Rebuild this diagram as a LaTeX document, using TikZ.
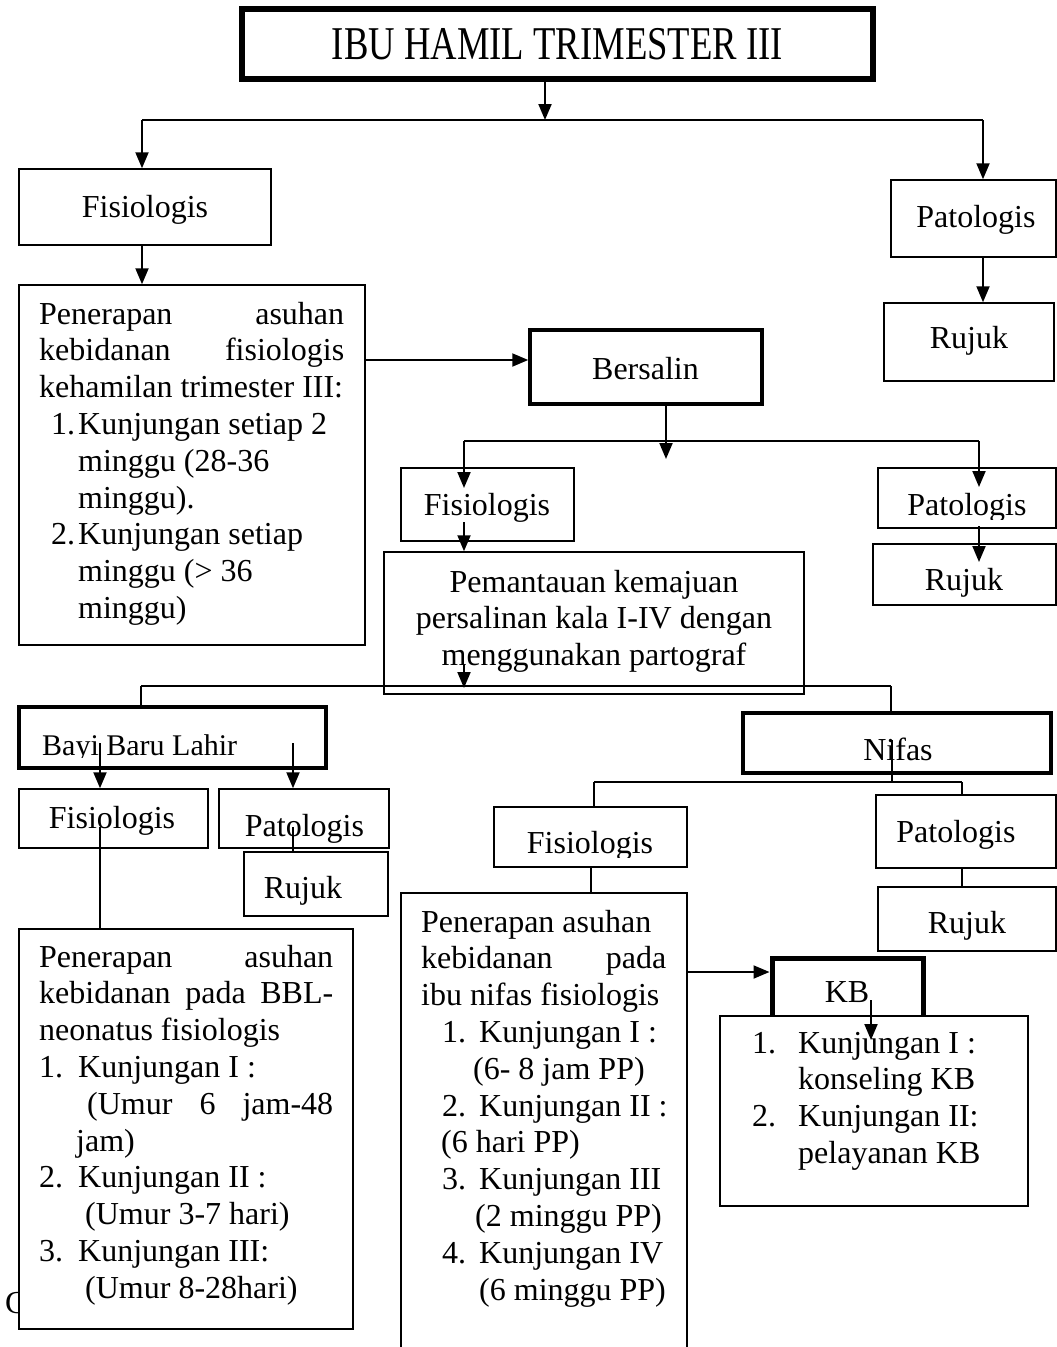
\documentclass[tikz,border=0pt]{standalone}
\usepackage{fontspec}
\setmainfont{Liberation Serif}
\usepackage{graphicx}
\usetikzlibrary{arrows.meta,positioning}

\newcommand{\bodysize}{\fontsize{32}{36.8}\selectfont}
\newcommand{\js}[2]{\makebox[#1pt][s]{#2}}
\newcommand{\itm}[3]{\hspace*{#1pt}\makebox[#2pt][l]{#3}}

\tikzset{
  box/.style={draw,line width=1.5pt,fill=white,inner sep=0pt},
  heavy/.style={box,line width=#1},
  lbl/.style={anchor=base,inner sep=0pt,font=\bodysize},
  blk/.style={anchor=base west,inner sep=0pt,font=\bodysize},
  arr/.style={line width=2pt,-{Triangle[length=16pt,width=13pt]}},
  ln/.style={line width=2pt}
}

\begin{document}
\begin{tikzpicture}[x=1pt,y=-1pt]
  \useasboundingbox (0,0) rectangle (1057,1347);

  \node[blk] (cc) at (5,1313) {C};

  % boxes
  \node[heavy=6pt,minimum width=631pt,minimum height=70pt,
        font=\fontsize{47}{50}\selectfont] (title) at (557.5,44)
        {\scalebox{0.78}[1]{IBU HAMIL TRIMESTER III}};
  \node[box,minimum width=252pt,minimum height=76pt] (fis1) at (145,207) {};
  \node[box,minimum width=165pt,minimum height=77pt] (pat1) at (973.5,218.5) {};
  \node[box,minimum width=170pt,minimum height=78pt] (ruj1) at (969,342) {};
  \node[box,minimum width=346pt,minimum height=360pt] (pen1) at (192,465) {};
  \node[heavy=3.5pt,minimum width=232pt,minimum height=74pt] (bers) at (646,367) {};
  \node[box,minimum width=173pt,minimum height=73pt] (fis2) at (487.5,504.5) {};
  \node[box,minimum width=178pt,minimum height=60pt] (pat2) at (967,498) {};
  \node[box,minimum width=183pt,minimum height=61pt] (ruj2) at (964.5,574.5) {};
  \node[box,minimum width=420pt,minimum height=142pt] (pem) at (594,623) {};
  \node[heavy=4.5pt,minimum width=307pt,minimum height=61pt] (bayi) at (172.5,737.5) {};
  \node[heavy=4.5pt,minimum width=308pt,minimum height=60pt] (nifas) at (897,743) {};
  \node[box,minimum width=189pt,minimum height=59pt] (fis3) at (113.5,818.5) {};
  \node[box,minimum width=170pt,minimum height=59pt] (pat3) at (304,818.5) {};
  \node[box,minimum width=144pt,minimum height=64pt] (ruj3) at (316,884) {};
  \node[box,minimum width=334pt,minimum height=400pt] (pen3) at (186,1129) {};
  \node[box,minimum width=193pt,minimum height=60pt] (fis4) at (590.5,837) {};
  \node[box,minimum width=180pt,minimum height=73pt] (pat4) at (966,831.5) {};
  \node[box,minimum width=178pt,minimum height=64pt] (ruj4) at (967,919) {};
  \node[box,minimum width=286pt,minimum height=477pt] (pen4) at (544,1131.5) {};
  \node[heavy=5pt,minimum width=151pt,minimum height=66pt] (kb) at (847.5,991) {};
  \node[box,minimum width=308pt,minimum height=190pt] (kbl) at (874,1111) {};

  % texts
  \node[lbl] (fis1t) at (145,217) {Fisiologis};
  \node[lbl] (pat1t) at (976,227) {Patologis};
  \node[lbl] (ruj1t) at (969,348) {Rujuk};
  \node[lbl] (berst) at (645.5,379) {Bersalin};
  \node[lbl] (fis2t) at (487,515) {Fisiologis};
  \begin{scope}
    \clip (880,470) rectangle (1055,519);
    \node[lbl] (pat2t) at (967,515) {Patologis};
  \end{scope}
  \node[lbl] (ruj2t) at (964,590) {Rujuk};
  \node[lbl] (pemt) at (594,592) {\begin{minipage}[t]{410pt}\centering
    Pemantauan kemajuan\\
    persalinan kala I-IV dengan\\
    menggunakan partograf\end{minipage}};
  \begin{scope}
    \clip (22,710) rectangle (323,757.5);
    \node[blk,font=\fontsize{30}{34}\selectfont] (bayit) at (42,755) {Bayi Baru Lahir};
  \end{scope}
  \node[lbl] (nifast) at (898,760) {Nifas};
  \node[lbl] (fis3t) at (112,828) {Fisiologis};
  \node[lbl] (pat3t) at (304.5,836) {Patologis};
  \node[lbl] (ruj3t) at (303,898) {Rujuk};
  \begin{scope}
    \clip (496,809) rectangle (685,857);
    \node[lbl] (fis4t) at (590,853) {Fisiologis};
  \end{scope}
  \node[lbl] (pat4t) at (956,842) {Patologis};
  \node[lbl] (ruj4t) at (967,933) {Rujuk};
  \node[lbl] (kbt) at (847,1002) {KB};

  \node[blk] (pen1t) at (39,324) {\begin{minipage}[t]{330pt}
    \js{305}{Penerapan asuhan}\\
    \js{305}{kebidanan fisiologis}\\
    kehamilan trimester III:\\
    \itm{12}{27}{1.}Kunjungan setiap 2\\
    \hspace*{39pt}minggu (28-36\\
    \hspace*{39pt}minggu).\\
    \itm{12}{27}{2.}Kunjungan setiap\\
    \hspace*{39pt}minggu (> 36\\
    \hspace*{39pt}minggu)\end{minipage}};

  \node[blk] (pen3t) at (39,967) {\begin{minipage}[t]{310pt}
    \js{294}{Penerapan asuhan}\\
    \js{294}{kebidanan pada BBL-}\\
    neonatus fisiologis\\
    \itm{0}{39}{1.}Kunjungan I :\\
    \hspace*{48pt}\js{246}{(Umur 6 jam-48}\\
    \hspace*{37pt}jam)\\
    \itm{0}{39}{2.}Kunjungan II :\\
    \hspace*{46pt}(Umur 3-7 hari)\\
    \itm{0}{39}{3.}Kunjungan III:\\
    \hspace*{46pt}(Umur 8-28hari)\end{minipage}};

  \node[blk] (pen4t) at (421,932) {\begin{minipage}[t]{280pt}
    Penerapan asuhan\\
    \js{245}{kebidanan pada}\\
    ibu nifas fisiologis\\
    \itm{21}{37}{1.}Kunjungan I :\\
    \hspace*{52pt}(6- 8 jam PP)\\
    \itm{21}{37}{2.}Kunjungan II :\\
    \hspace*{20pt}(6 hari PP)\\
    \itm{21}{37}{3.}Kunjungan III\\
    \hspace*{54pt}(2 minggu PP)\\
    \itm{21}{37}{4.}Kunjungan IV\\
    \hspace*{58pt}(6 minggu PP)\end{minipage}};

  \node[blk] (kblt) at (752,1053) {\begin{minipage}[t]{280pt}
    \itm{0}{46}{1.}Kunjungan I :\\
    \hspace*{46pt}konseling KB\\
    \itm{0}{46}{2.}Kunjungan II:\\
    \hspace*{46pt}pelayanan KB\end{minipage}};

  % connectors
  \coordinate (t0) at (545,120);
  \coordinate (tl) at (142,120);
  \coordinate (tr) at (983,120);
  \draw[arr] (t0 |- title.south) -- (t0);
  \draw[ln] (tl) -- (tr);
  \draw[arr] (tl) -- (tl |- fis1.north);
  \draw[arr] (tr) -- (tr |- pat1.north);
  \draw[arr] (tl |- fis1.south) -- (tl |- pen1.north);
  \draw[arr] (tr |- pat1.south) -- (tr |- ruj1.north);

  \coordinate (b0) at (0,360);
  \draw[arr] (pen1.east |- b0) -- (bers.west |- b0);
  \coordinate (b1) at (666,459);
  \draw[arr] (b1 |- bers.south) -- (b1);
  \coordinate (bl) at (464,441);
  \coordinate (br) at (979,441);
  \draw[ln] (bl) -- (br);
  \draw[arr] (bl) -- ++(0,47);
  \draw[arr] (br) -- ++(0,46);
  \coordinate (f2) at (464,522);
  \draw[arr] (f2) -- (f2 |- pem.north);
  \coordinate (p2) at (979,526);
  \draw[arr] (p2) -- ++(0,36);
  \coordinate (pm) at (464,665);
  \draw[arr] (pm) -- ++(0,23);

  \coordinate (ml) at (141,686);
  \coordinate (mr) at (891,686);
  \draw[ln] (ml) -- (mr);
  \draw[ln] (ml) -- (ml |- bayi.north);
  \draw[ln] (mr) -- (mr |- nifas.north);
  \coordinate (y1) at (100,743);
  \coordinate (y2) at (293,743);
  \draw[arr] (y1) -- (y1 |- fis3.north);
  \draw[arr] (y2) -- (y2 |- pat3.north);
  \coordinate (y3) at (100,827);
  \coordinate (y4) at (293,827);
  \draw[ln] (y3) -- (y3 |- pen3.north);
  \draw[ln] (y4) -- (y4 |- ruj3.north);

  \coordinate (n0) at (892,740);
  \coordinate (nl) at (594,782);
  \coordinate (nr) at (962,782);
  \draw[ln] (n0) -- (n0 |- nl);
  \draw[ln] (nl) -- (nr);
  \draw[ln] (nl) -- (nl |- fis4.north);
  \draw[ln] (nr) -- (nr |- pat4.north);
  \draw[ln] (nr |- pat4.south) -- (nr |- ruj4.north);
  \draw[ln] (fis4.south) -- (fis4.south |- pen4.north);
  \coordinate (k0) at (0,972);
  \draw[arr] (pen4.east |- k0) -- (kb.west |- k0);
  \coordinate (k1) at (871,1000);
  \draw[arr] (k1) -- ++(0,40);
\end{tikzpicture}
\end{document}
